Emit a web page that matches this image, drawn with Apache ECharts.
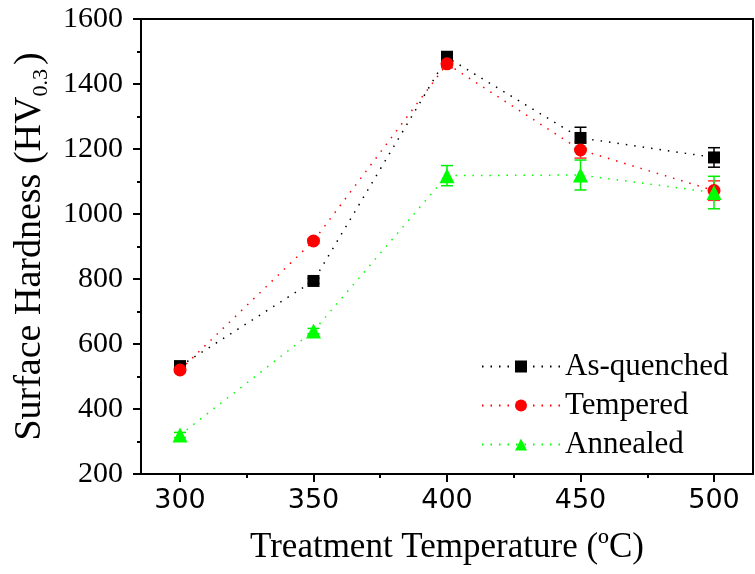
<!DOCTYPE html>
<html>
<head>
<meta charset="utf-8">
<script src="https://cdn.jsdelivr.net/npm/echarts@6/dist/echarts.min.js"></script>
<style>html,body{margin:0;padding:0;background:#fff}#c{width:755px;height:574px}</style>
</head>
<body>
<div id="c"></div>
<script>
const temps = [300, 350, 400, 450, 500];
const asQuenched = [532, 794, 1482, 1234, 1174];
const asQuenchedErr = [8, 8, 18, 33, 30];
const tempered = [520, 917, 1462, 1197, 1072];
const temperedErr = [8, 8, 12, 25, 30];
const annealed = [320, 640, 1118, 1120, 1066];
const annealedErr = [8, 8, 31, 46, 50];
const xTicks = [300, 350, 400, 450, 500];
const xMinorTicks = [325, 375, 425, 475];

const serif = '"Liberation Serif", "DejaVu Serif", serif';
const sans = '"DejaVu Sans", "Open Sans", sans-serif';

function pairs(v) { return temps.map((t, i) => [t, v[i]]); }
function errData(v, e) { return temps.map((t, i) => [t, v[i] - e[i], v[i] + e[i]]); }

function errSeries(name, color, v, e) {
  return {
    type: 'custom', name: name + ' err', xAxisIndex: 0, yAxisIndex: 0, z: 3,
    silent: true,
    data: errData(v, e),
    renderItem: function (params, api) {
      const x = api.value(0);
      const lo = api.coord([x, api.value(1)]);
      const hi = api.coord([x, api.value(2)]);
      const w = 6;
      const st = { stroke: color, lineWidth: 1.5 };
      return {
        type: 'group',
        children: [
          { type: 'line', shape: { x1: lo[0], y1: lo[1], x2: hi[0], y2: hi[1] }, style: st },
          { type: 'line', shape: { x1: lo[0] - w, y1: lo[1], x2: lo[0] + w, y2: lo[1] }, style: st },
          { type: 'line', shape: { x1: hi[0] - w, y1: hi[1], x2: hi[0] + w, y2: hi[1] }, style: st }
        ]
      };
    }
  };
}

function lineSeries(name, color, symbol, size, v) {
  return {
    type: 'line', name: name, data: pairs(v), symbol: symbol, symbolSize: size,
    xAxisIndex: 0, yAxisIndex: 0, z: 4,
    itemStyle: { color: color },
    lineStyle: { color: color, type: [1.5, 7], width: 1.5 }
  };
}

const chart = echarts.init(document.getElementById('c'), null, { renderer: 'canvas' });
const axisLine = { show: true, lineStyle: { color: '#000', width: 2 } };
chart.setOption({
  animation: false,
  backgroundColor: '#fff',
  grid: { left: 141, top: 19, right: 2, bottom: 100, containLabel: false },
  xAxis: [
    {
      type: 'value', min: 285.4, max: 514.6, position: 'bottom',
      axisLine: axisLine,
      axisTick: { show: true, inside: false, length: 8, customValues: xTicks, lineStyle: { color: '#000', width: 2 } },
      axisLabel: { show: true, customValues: xTicks, margin: 13, fontFamily: sans, fontSize: 27, color: '#000' },
      splitLine: { show: false },
      name: 'Treatment Temperature (ºC)', nameLocation: 'middle', nameGap: 56,
      nameTextStyle: { fontFamily: serif, fontSize: 35, color: '#000' }
    },
    {
      type: 'value', min: 285.4, max: 514.6, position: 'bottom',
      axisLine: { show: false },
      axisTick: { show: true, inside: false, length: 4, customValues: xMinorTicks, lineStyle: { color: '#000', width: 2 } },
      axisLabel: { show: false }, splitLine: { show: false }
    },
    {
      type: 'value', min: 285.4, max: 514.6, position: 'top',
      axisLine: axisLine, axisTick: { show: false }, axisLabel: { show: false }, splitLine: { show: false }
    }
  ],
  yAxis: [
    {
      type: 'value', min: 200, max: 1600, interval: 200, position: 'left',
      axisLine: axisLine,
      axisTick: { show: true, inside: false, length: 8, lineStyle: { color: '#000', width: 2 } },
      minorTick: { show: true, splitNumber: 2, length: 4, lineStyle: { color: '#000', width: 2 } },
      axisLabel: { margin: 18, fontFamily: serif, fontSize: 30, color: '#000', formatter: function (v) { return String(v); } },
      splitLine: { show: false },
      name: '{a|Surface Hardness (HV}{s|0.3}{a|)}', nameLocation: 'middle', nameGap: 88,
      nameTextStyle: {
        color: '#000',
        rich: {
          a: { fontFamily: serif, fontSize: 38, color: '#000', lineHeight: 44, verticalAlign: 'middle' },
          s: { fontFamily: serif, fontSize: 22, color: '#000', lineHeight: 22, verticalAlign: 'bottom', padding: [0, 4, 0, 0] }
        }
      }
    },
    {
      type: 'value', min: 200, max: 1600, interval: 200, position: 'right',
      axisLine: axisLine, axisTick: { show: false }, axisLabel: { show: false }, splitLine: { show: false }
    }
  ],
  legend: {
    orient: 'vertical', left: 476, top: 346, itemWidth: 78, itemHeight: 15, itemGap: 8,
    data: ['As-quenched', 'Tempered', 'Annealed'],
    textStyle: { fontFamily: serif, fontSize: 31, color: '#000', padding: [0, 0, 0, 0] }
  },
  series: [
    lineSeries('As-quenched', '#000000', 'rect', 12, asQuenched),
    lineSeries('Tempered', '#ff0000', 'circle', 13, tempered),
    lineSeries('Annealed', '#00ff00', 'triangle', 15, annealed),
    errSeries('As-quenched', '#000000', asQuenched, asQuenchedErr),
    errSeries('Tempered', '#ff3333', tempered, temperedErr),
    errSeries('Annealed', '#00ee00', annealed, annealedErr)
  ]
});
</script>
</body>
</html>
